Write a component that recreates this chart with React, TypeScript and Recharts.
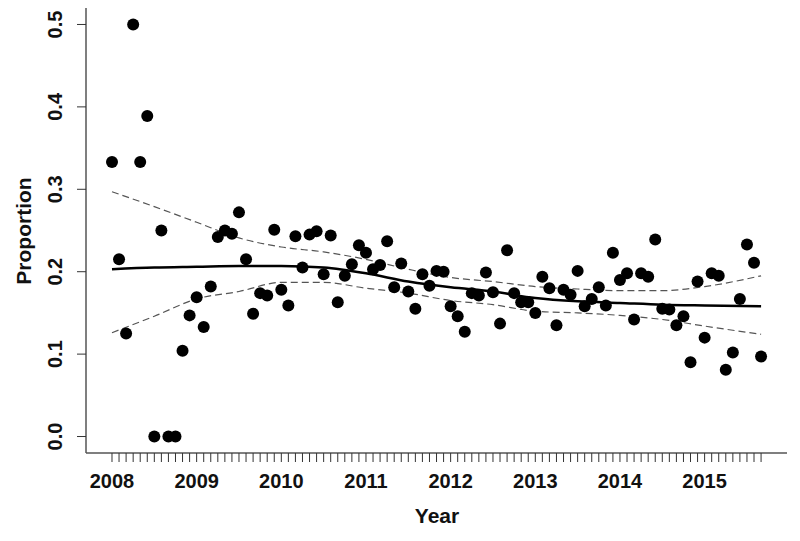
import {
    ComposedChart,
    Scatter,
    Line,
    XAxis,
    YAxis,
} from 'recharts';

// monthly proportions, Jan 2008 .. Sep 2015
const START_YEAR = 2008;
const proportion = [
    0.333, 0.215, 0.125, 0.5, 0.333, 0.389, 0, 0.25, 0, 0, 0.104, 0.147,
    0.169, 0.133, 0.182, 0.242, 0.25, 0.246, 0.272, 0.215, 0.149, 0.174, 0.171, 0.251,
    0.178, 0.159, 0.243, 0.205, 0.245, 0.249, 0.197, 0.244, 0.163, 0.195, 0.209, 0.232,
    0.223, 0.203, 0.208, 0.237, 0.181, 0.21, 0.176, 0.155, 0.197, 0.183, 0.201, 0.2,
    0.158, 0.146, 0.127, 0.174, 0.171, 0.199, 0.175, 0.137, 0.226, 0.174, 0.163, 0.163,
    0.15, 0.194, 0.18, 0.135, 0.178, 0.172, 0.201, 0.158, 0.167, 0.181, 0.159, 0.223,
    0.19, 0.198, 0.142, 0.198, 0.194, 0.239, 0.155, 0.154, 0.135, 0.146, 0.09, 0.188,
    0.12, 0.198, 0.195, 0.081, 0.102, 0.167, 0.233, 0.211, 0.097,
];

// smoothed fit and its confidence band
const fitYears = [
    2008, 2008.5, 2009, 2009.5, 2010, 2010.5, 2011, 2011.5, 2012,
    2012.5, 2013, 2013.5, 2014, 2014.5, 2015, 2015.667,
];
const fitValues = [
    0.203, 0.205, 0.206, 0.207, 0.207, 0.205, 0.198, 0.188, 0.181,
    0.176, 0.168, 0.164, 0.162, 0.16, 0.159, 0.158,
];
const upperValues = [
    0.297, 0.279, 0.26, 0.241, 0.23, 0.224, 0.215, 0.203, 0.193,
    0.188, 0.182, 0.179, 0.177, 0.177, 0.182, 0.195,
];
const lowerValues = [
    0.126, 0.146, 0.167, 0.176, 0.187, 0.187, 0.18, 0.174, 0.165,
    0.16, 0.152, 0.15, 0.147, 0.142, 0.134, 0.124,
];

const yearLabels = [2008, 2009, 2010, 2011, 2012, 2013, 2014, 2015];
const yTicks = [0, 0.1, 0.2, 0.3, 0.4, 0.5];

const X_MIN = 2007.693;
const X_MAX = 2015.973;
const Y_MIN = -0.02;
const Y_MAX = 0.52;

const W = 800;
const H = 541;
const PLOT_LEFT = 86;
const PLOT_RIGHT = 787;
const PLOT_TOP = 8;
const PLOT_BOTTOM = 453;

const FONT = '"Liberation Sans", Arial, sans-serif';
const BOX = { stroke: '#555', strokeWidth: 1.5 };

const points = proportion.map((p, i) => ({ x: START_YEAR + i / 12, y: p }));
const fitLine = fitYears.map((x, i) => ({ x, y: fitValues[i] }));
const upperLine = fitYears.map((x, i) => ({ x, y: upperValues[i] }));
const lowerLine = fitYears.map((x, i) => ({ x, y: lowerValues[i] }));
const monthTicks = proportion.map((_, i) => START_YEAR + i / 12);

const XTick = (props: any) => {
    const { x, payload } = props;
    const v = payload.value;
    const yr = Math.round(v);
    if (Math.abs(v - yr) > 1e-6 || !yearLabels.includes(yr)) return null;
    return (
        <text x={x} y={488} textAnchor="middle" fontFamily={FONT} fontWeight="bold" fontSize={20} fill="#111">
            {yr}
        </text>
    );
};

const YTick = (props: any) => {
    const { y, payload } = props;
    return (
        <text
            x={62}
            y={y}
            transform={`rotate(-90, 62, ${y})`}
            textAnchor="middle"
            fontFamily={FONT}
            fontWeight="bold"
            fontSize={20}
            fill="#111"
        >
            {payload.value.toFixed(1)}
        </text>
    );
};

const Dot = (props: any) => <circle cx={props.cx} cy={props.cy} r={6} fill="#000" />;

export default function App() {
    return (
        <div style={{ position: 'absolute', left: 0, top: 0, width: W, height: H, background: '#fff' }}>
            <ComposedChart
                width={W}
                height={H}
                margin={{ top: PLOT_TOP, right: W - PLOT_RIGHT, bottom: 0, left: 0 }}
            >
                <XAxis
                    type="number"
                    dataKey="x"
                    domain={[X_MIN, X_MAX]}
                    ticks={monthTicks}
                    interval={0}
                    height={H - PLOT_BOTTOM}
                    tick={<XTick />}
                    tickSize={9}
                    tickLine={{ stroke: '#333' }}
                    axisLine={BOX}
                    allowDataOverflow
                />
                {/* top and right edges of the box */}
                <XAxis
                    xAxisId="top"
                    orientation="top"
                    type="number"
                    dataKey="x"
                    domain={[X_MIN, X_MAX]}
                    height={0}
                    tick={false}
                    tickLine={false}
                    axisLine={BOX}
                    allowDataOverflow
                />
                <YAxis
                    type="number"
                    dataKey="y"
                    domain={[Y_MIN, Y_MAX]}
                    ticks={yTicks}
                    width={PLOT_LEFT}
                    tick={<YTick />}
                    tickSize={9}
                    tickLine={{ stroke: '#333' }}
                    axisLine={BOX}
                    allowDataOverflow
                />
                <YAxis
                    yAxisId="right"
                    orientation="right"
                    type="number"
                    dataKey="y"
                    domain={[Y_MIN, Y_MAX]}
                    width={0}
                    tick={false}
                    tickLine={false}
                    axisLine={BOX}
                    allowDataOverflow
                />
                <Line data={upperLine} dataKey="y" type="monotone" stroke="#555" strokeWidth={1.2} strokeDasharray="7 4" dot={false} isAnimationActive={false} />
                <Line data={lowerLine} dataKey="y" type="monotone" stroke="#555" strokeWidth={1.2} strokeDasharray="7 4" dot={false} isAnimationActive={false} />
                <Line data={fitLine} dataKey="y" type="monotone" stroke="#000" strokeWidth={2.5} dot={false} isAnimationActive={false} />
                <Scatter data={points} dataKey="y" shape={<Dot />} isAnimationActive={false} />
            </ComposedChart>
            <svg width={W} height={H} style={{ position: 'absolute', left: 0, top: 0, pointerEvents: 'none' }}>
                <text x={437} y={523} textAnchor="middle" fontFamily={FONT} fontWeight="bold" fontSize={21} fill="#111">
                    Year
                </text>
                <text
                    x={31}
                    y={231}
                    transform="rotate(-90, 31, 231)"
                    textAnchor="middle"
                    fontFamily={FONT}
                    fontWeight="bold"
                    fontSize={21}
                    fill="#111"
                >
                    Proportion
                </text>
            </svg>
        </div>
    );
}
